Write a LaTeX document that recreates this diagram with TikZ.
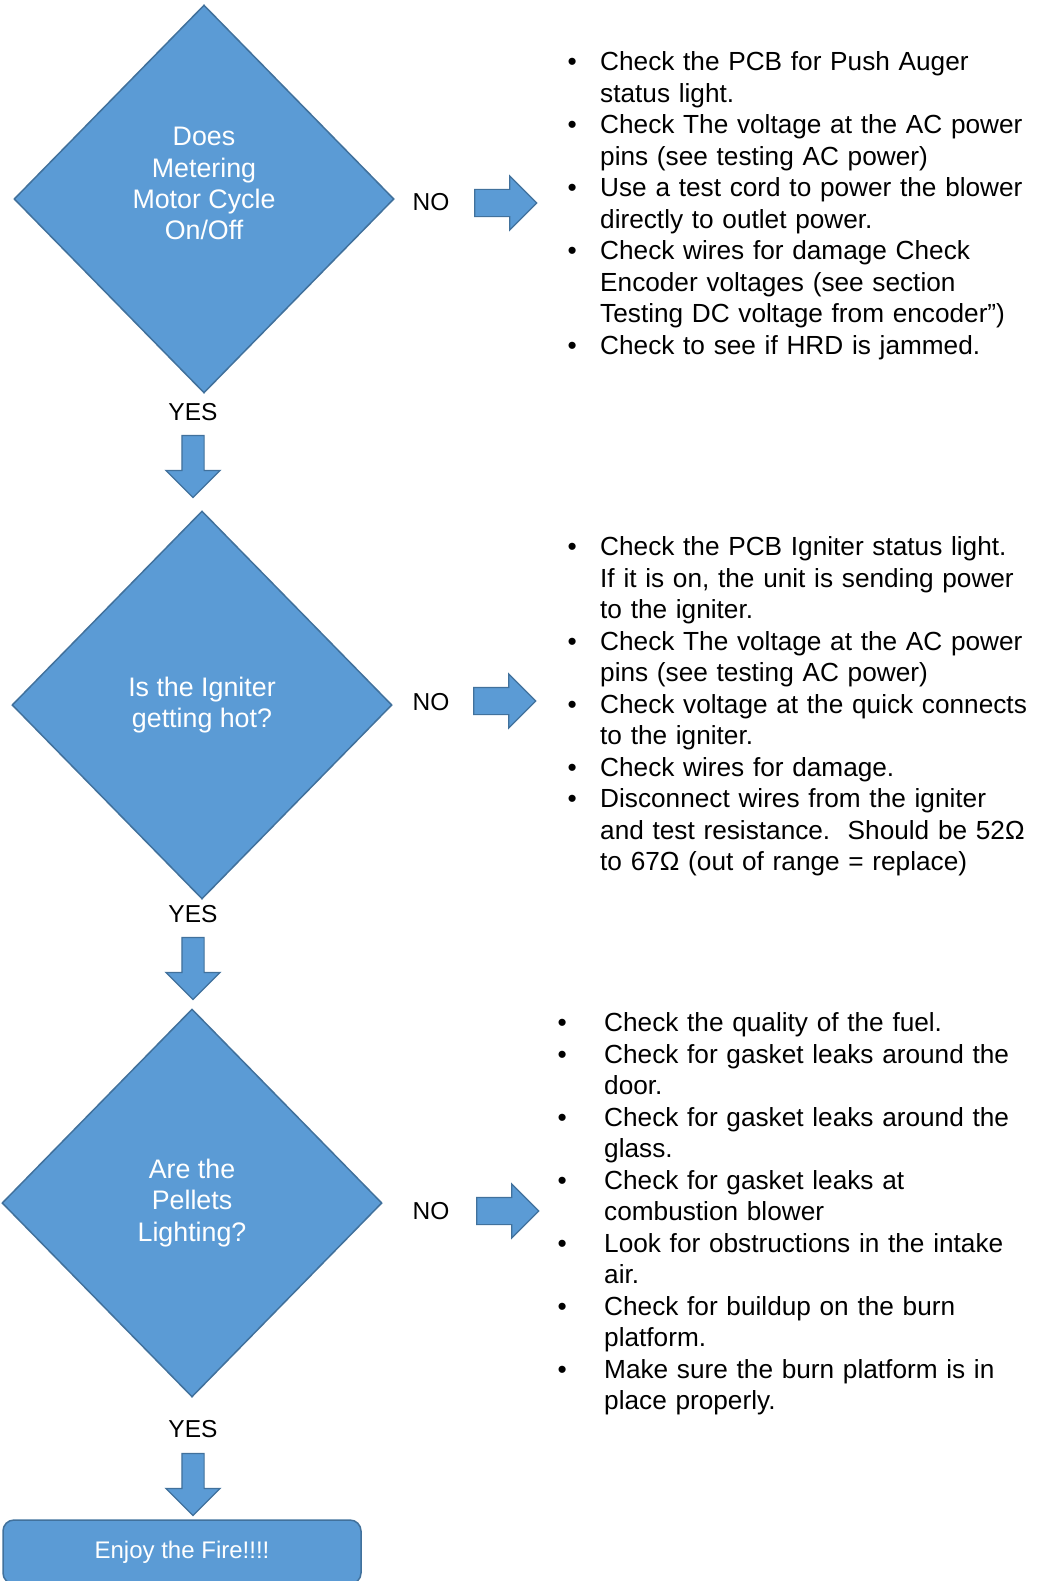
\documentclass[tikz,border=0pt]{standalone}
\usepackage{fontspec}
\setmainfont{Liberation Sans}
\usepackage{enumitem}
\usetikzlibrary{shapes.geometric, shapes.arrows, positioning}
\definecolor{boxblue}{HTML}{5B9BD5}
\definecolor{edgeblue}{HTML}{41719C}
\tikzset{decision/.style={diamond,fill=boxblue,draw=edgeblue,line width=1.5pt,
      minimum width=380pt,minimum height=388pt,inner sep=0pt,text=white,
      align=center,font=\fontsize{26.8}{31.2}\selectfont},
    right block/.style={single arrow,fill=boxblue,draw=edgeblue,line width=1.2pt,
      inner sep=13pt,minimum height=62pt,single arrow head extend=13.5pt},
    down block/.style={single arrow,shape border rotate=270,fill=boxblue,
      draw=edgeblue,line width=1.2pt,inner sep=10.5pt,minimum height=62pt,
      single arrow head extend=16pt},
    answer/.style={font=\fontsize{24.5}{28}\selectfont,inner sep=0pt},
    checklist/.style={anchor=north west,inner sep=0pt,text width=480pt,align=left,
      font=\fontsize{26.2}{31.5}\selectfont},
    finish/.style={rectangle,rounded corners=11pt,fill=boxblue,draw=edgeblue,
      line width=1.5pt,minimum width=358pt,minimum height=64pt,text=white,
      font=\fontsize{24}{28}\selectfont}}

\begin{document}
\begin{tikzpicture}[x=1pt,y=-1pt]
  \useasboundingbox (0,0) rectangle (1044,1581);

  % the three questions
  \node[decision] (motor) at (204,199) {Does\\Metering\\Motor Cycle\\On/Off\\\mbox{}};
  \node[decision] (igniter) at (202,705) {Is the Igniter\\getting hot?};
  \node[decision] (pellets) at (192,1203) {Are the\\Pellets\\Lighting?};

  % answers
  \foreach \pos/\name in {{(431,202)/no1}, {(431,702)/no2}, {(431,1211)/no3}}
    \node[answer] (\name) at \pos {NO};
  \foreach \pos/\name in {{(193,412)/yes1}, {(193,914)/yes2}, {(193,1429)/yes3}}
    \node[answer] (\name) at \pos {YES};

  % block arrows
  \foreach \pos/\name in {{(499,203)/go1}, {(498,701)/go2}, {(501,1211)/go3}}
    \node[right block] (\name) at \pos {};
  \foreach \pos/\name in {{(193,461)/down1}, {(193,963)/down2}, {(193,1479)/down3}}
    \node[down block] (\name) at \pos {};

  % what to check
  \node[checklist] (checks1) at (560,39) {%
    \begin{itemize}[leftmargin=40pt,labelsep=23.3pt,label=\textbullet,
        itemsep=0pt,topsep=0pt,parsep=0pt,partopsep=0pt]
    \item Check the PCB for Push Auger\newline status light.
    \item Check The voltage at the AC power\newline pins (see testing AC power)
    \item Use a test cord to power the blower\newline directly to outlet power.
    \item Check wires for damage Check\newline Encoder voltages (see section\newline
      Testing DC voltage from encoder”)
    \item Check to see if HRD is jammed.
    \end{itemize}};

  \node[checklist] (checks2) at (560,524) {%
    \begin{itemize}[leftmargin=40pt,labelsep=23.3pt,label=\textbullet,
        itemsep=0pt,topsep=0pt,parsep=0pt,partopsep=0pt]
    \item Check the PCB Igniter status light.\newline If it is on, the unit is
      sending power\newline to the igniter.
    \item Check The voltage at the AC power\newline pins (see testing AC power)
    \item Check voltage at the quick connects\newline to the igniter.
    \item Check wires for damage.
    \item Disconnect wires from the igniter\newline and test resistance.\ \ Should
      be 52Ω\newline to 67Ω (out of range = replace)
    \end{itemize}};

  \node[checklist] (checks3) at (564,1000) {%
    \begin{itemize}[leftmargin=40pt,labelsep=37.3pt,label=\textbullet,
        itemsep=0pt,topsep=0pt,parsep=0pt,partopsep=0pt]
    \item Check the quality of the fuel.
    \item Check for gasket leaks around the\newline door.
    \item Check for gasket leaks around the\newline glass.
    \item Check for gasket leaks at\newline combustion blower
    \item Look for obstructions in the intake\newline air.
    \item Check for buildup on the burn\newline platform.
    \item Make sure the burn platform is in\newline place properly.
    \end{itemize}};

  % the end
  \node[finish] (fire) at (182,1552) {Enjoy the Fire!!!!};

\end{tikzpicture}
\end{document}
